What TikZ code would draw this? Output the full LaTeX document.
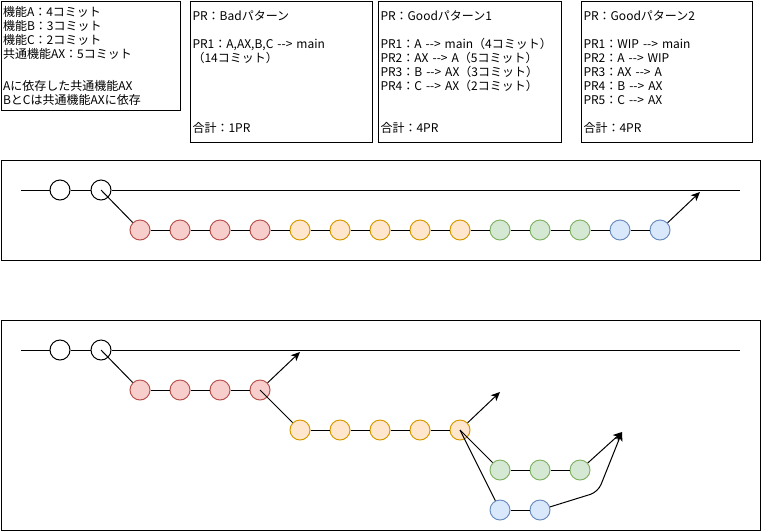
\documentclass[tikz,border=0pt]{standalone}
\usepackage{fontspec}
\setmainfont{Noto Sans CJK JP}
\usepackage{tikz}
\usetikzlibrary{arrows.meta, positioning}
\definecolor{RedFill}{HTML}{F8CECC}
\definecolor{RedLine}{HTML}{B85450}
\definecolor{OrangeFill}{HTML}{FFE6CC}
\definecolor{OrangeLine}{HTML}{D79B00}
\definecolor{GreenFill}{HTML}{D5E8D4}
\definecolor{GreenLine}{HTML}{82B366}
\definecolor{BlueFill}{HTML}{DAE8FC}
\definecolor{BlueLine}{HTML}{6C8EBF}
\tikzstyle{memo} = [rectangle, draw=black, anchor=north west, align=left, inner xsep=2pt, inner ysep=0pt, font=\fontsize{12}{14}\selectfont]
\tikzstyle{frame} = [rectangle, draw=black, anchor=north west, inner sep=0pt]
\tikzstyle{commit} = [circle, draw=black, fill=white, minimum size=20pt, inner sep=0pt]
\tikzstyle{featA} = [commit, draw=RedLine, fill=RedFill]
\tikzstyle{featAX} = [commit, draw=OrangeLine, fill=OrangeFill]
\tikzstyle{featB} = [commit, draw=GreenLine, fill=GreenFill]
\tikzstyle{featC} = [commit, draw=BlueLine, fill=BlueFill]
\tikzstyle{arrow} = [-{Stealth[length=9pt, width=8pt, inset=2.5pt]}]

\begin{document}
\begin{tikzpicture}[x=1pt, y=-1pt, line width=1pt]
  \useasboundingbox (0,0) rectangle (762,531);

  % memos
  \node (features) [memo, text width=175.5pt, minimum height=109.5pt] at (0.5,0.5) {機能A：4コミット\\ 機能B：3コミット\\ 機能C：2コミット\\ 共通機能AX：5コミット\\[18pt] Aに依存した共通機能AX\\ BとCは共通機能AXに依存};
  \node (bad_memo) [memo, text width=178pt, minimum height=141.5pt] at (190,0.5) {PR：Badパターン\\[14pt] PR1：A,AX,B,C -{}-> main\\ （14コミット）\\[56pt] 合計：1PR};
  \node (good1_memo) [memo, text width=179pt, minimum height=141.5pt] at (378,0.5) {PR：Goodパターン1\\[14pt] PR1：A -{}-> main（4コミット）\\ PR2：AX -{}-> A（5コミット）\\ PR3：B -{}-> AX（3コミット）\\ PR4：C -{}-> AX（2コミット）\\[28pt] 合計：4PR};
  \node (good2_memo) [memo, text width=167pt, minimum height=141.5pt] at (581,0.5) {PR：Goodパターン2\\[14pt] PR1：WIP -{}-> main\\ PR2：A -{}-> WIP\\ PR3：AX -{}-> A\\ PR4：B -{}-> AX\\ PR5：C -{}-> AX\\[14pt] 合計：4PR};

  % bad pattern
  \node (bad_frame) [frame, minimum width=759.5pt, minimum height=100pt] at (0.5,160) {};
  \coordinate (bad_start) at (21,190);
  \coordinate (bad_end) at (740,190);
  \coordinate (bad_tip) at (700,192);
  \node (bad_o1) [commit] at (60,190) {};
  \node (bad_o2) [commit] at (101,190) {};
  \node (bad_a1) [featA] at (140,230) {};
  \node (bad_a2) [featA, right=19pt of bad_a1] {};
  \node (bad_a3) [featA, right=19pt of bad_a2] {};
  \node (bad_a4) [featA, right=19pt of bad_a3] {};
  \node (bad_x1) [featAX, right=19pt of bad_a4] {};
  \node (bad_x2) [featAX, right=19pt of bad_x1] {};
  \node (bad_x3) [featAX, right=19pt of bad_x2] {};
  \node (bad_x4) [featAX, right=19pt of bad_x3] {};
  \node (bad_x5) [featAX, right=19pt of bad_x4] {};
  \node (bad_b1) [featB, right=19pt of bad_x5] {};
  \node (bad_b2) [featB, right=19pt of bad_b1] {};
  \node (bad_b3) [featB, right=19pt of bad_b2] {};
  \node (bad_c1) [featC, right=19pt of bad_b3] {};
  \node (bad_c2) [featC, right=19pt of bad_c1] {};

  \draw (bad_start) -- (bad_o1) -- (bad_o2) -- (bad_end);
  \draw (bad_o2.center) -- (bad_a1);
  \draw (bad_a1) -- (bad_a2) -- (bad_a3) -- (bad_a4) -- (bad_x1) -- (bad_x2) -- (bad_x3) -- (bad_x4) -- (bad_x5) -- (bad_b1) -- (bad_b2) -- (bad_b3) -- (bad_c1) -- (bad_c2);
  \draw [arrow] (bad_c2) -- (bad_tip);

  % good pattern
  \node (good_frame) [frame, minimum width=759.5pt, minimum height=210pt] at (0.5,320) {};
  \coordinate (good_start) at (21,350);
  \coordinate (good_end) at (740,350);
  \coordinate (good_tip_a) at (300,352);
  \coordinate (good_tip_x) at (500,392);
  \coordinate (good_tip_bc) at (622,432);
  \coordinate (good_bend) at (598,492);
  \node (good_o1) [commit] at (60,350) {};
  \node (good_o2) [commit] at (101,350) {};
  \node (good_a1) [featA] at (140,390) {};
  \node (good_a2) [featA, right=19pt of good_a1] {};
  \node (good_a3) [featA, right=19pt of good_a2] {};
  \node (good_a4) [featA, right=19pt of good_a3] {};
  \node (good_x1) [featAX] at (300,430) {};
  \node (good_x2) [featAX, right=19pt of good_x1] {};
  \node (good_x3) [featAX, right=19pt of good_x2] {};
  \node (good_x4) [featAX, right=19pt of good_x3] {};
  \node (good_x5) [featAX, right=19pt of good_x4] {};
  \node (good_b1) [featB] at (500,470) {};
  \node (good_b2) [featB, right=19pt of good_b1] {};
  \node (good_b3) [featB, right=19pt of good_b2] {};
  \node (good_c1) [featC] at (500,510) {};
  \node (good_c2) [featC, right=19pt of good_c1] {};

  \draw (good_start) -- (good_o1) -- (good_o2) -- (good_end);
  \draw (good_o2.center) -- (good_a1);
  \draw (good_a1) -- (good_a2) -- (good_a3) -- (good_a4);
  \draw (good_a4.center) -- (good_x1);
  \draw (good_x1) -- (good_x2) -- (good_x3) -- (good_x4) -- (good_x5);
  \draw (good_x5.center) -- (good_b1);
  \draw (good_x5.center) -- (good_c1);
  \draw (good_b1) -- (good_b2) -- (good_b3);
  \draw (good_c1) -- (good_c2);
  \draw [arrow] (good_a4) -- (good_tip_a);
  \draw [arrow] (good_x5) -- (good_tip_x);
  \draw [arrow] (good_b3) -- (good_tip_bc);
  \draw [arrow, rounded corners=8pt] (good_c2) -- (good_bend) -- (good_tip_bc);

\end{tikzpicture}
\end{document}
